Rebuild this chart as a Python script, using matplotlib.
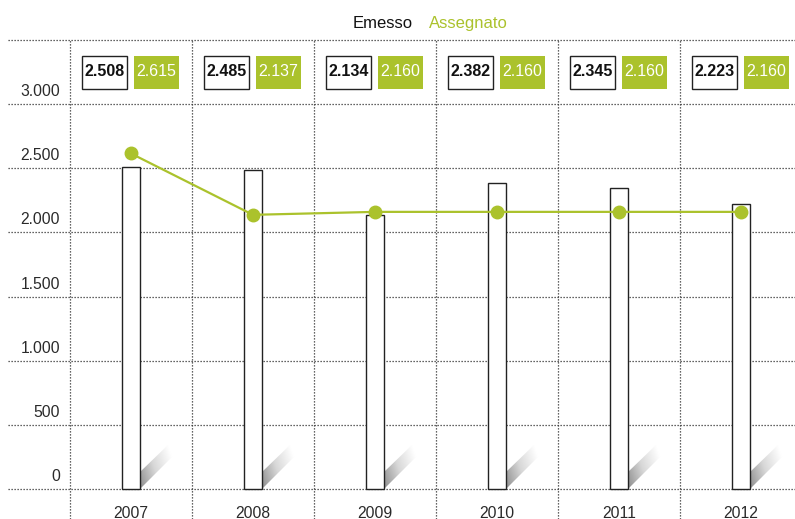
import numpy as np
import matplotlib
matplotlib.use('Agg')
import matplotlib.pyplot as plt
from matplotlib.patches import Polygon, Rectangle
from matplotlib.colors import LinearSegmentedColormap

years = ['2007', '2008', '2009', '2010', '2011', '2012']
emesso = [2508, 2485, 2134, 2382, 2345, 2223]
assegnato = [2615, 2137, 2160, 2160, 2160, 2160]
emesso_labels = ['2.508', '2.485', '2.134', '2.382', '2.345', '2.223']
assegnato_labels = ['2.615', '2.137', '2.160', '2.160', '2.160', '2.160']
yticks = [0, 500, 1000, 1500, 2000, 2500, 3000]
ytick_labels = ['0', '500', '1.000', '1.500', '2.000', '2.500', '3.000']
series_names = ['Emesso', 'Assegnato']

GREEN = '#abc22c'
TXT = '#2a2a2a'
W, H = 795, 519
fig = plt.figure(figsize=(W / 100, H / 100), dpi=100)
ax = fig.add_axes([0, 0, 1, 1])

cat_px = 122.0      # pixels per category
x0_px = 131.0       # pixel x of first category centre
y0_px = 489.0       # pixel y of value 0
vpp = 1000 / 128.3  # value units per pixel
ax.set_xlim(-x0_px / cat_px, (W - x0_px) / cat_px)
ax.set_ylim(-(H - y0_px) * vpp, y0_px * vpp)
ax.axis('off')
ymin, ymax = ax.get_ylim()
top_val = 3500
xl, xr = ax.get_xlim()
left_grid = (8 - x0_px) / cat_px

dot = dict(color='#333333', lw=0.9, linestyle=(0, (1, 1.4)), zorder=1)
for v in yticks + [top_val]:
    ax.plot([left_grid, xr], [v, v], **dot)
for i in range(len(years) + 1):
    ax.plot([i - 0.5, i - 0.5], [ymin, top_val], **dot)

# bars
bw = 18 / cat_px
x = np.arange(len(years))
ax.bar(x, emesso, width=bw, color='white', edgecolor='#222222', linewidth=1.0, zorder=3)

# shadows
cmap = LinearSegmentedColormap.from_list('sh', ['#8e8e8e', '#d8d8d8', '#ffffff'])
nx, ny = 40, 60
gx, gy = np.meshgrid(np.linspace(0, 34, nx), np.linspace(0, 50, ny))
t = np.clip((gx * 0.8 + (gy - gx) * 0.2) / 26, 0, 1)
for i in range(len(years)):
    bx = i + bw / 2
    pts_px = [(0, 0), (0, 17), (28, 44), (33, 33)]
    pts = [(bx + dx / cat_px, dy * vpp) for dx, dy in pts_px]
    poly = Polygon(pts, closed=True, facecolor='none', edgecolor='none')
    ax.add_patch(poly)
    im = ax.imshow(t, cmap=cmap, vmin=0, vmax=1, origin='lower', aspect='auto',
                   extent=[bx, bx + 34 / cat_px, 0, 50 * vpp], zorder=2.5,
                   interpolation='bilinear')
    im.set_clip_path(poly)

# line
ax.plot(x, assegnato, color=GREEN, lw=1.6, marker='o', ms=9, zorder=4)

# value boxes
box_w = 45 / cat_px
box_h = 33 * vpp
box_y = (y0_px - 72) * vpp
for i in range(len(years)):
    cx_w = i - 26.5 / cat_px
    cx_g = i + 25.5 / cat_px
    ax.add_patch(Rectangle((cx_w - box_w / 2, box_y - box_h / 2), box_w, box_h,
                           facecolor='white', edgecolor='#222222', lw=1.0, zorder=5))
    ax.add_patch(Rectangle((cx_g - box_w / 2, box_y - box_h / 2), box_w, box_h,
                           facecolor=GREEN, edgecolor='none', zorder=5))
    ax.text(cx_w, box_y, emesso_labels[i], ha='center', va='center', fontsize=11.5,
            family='Liberation Sans', weight='bold', color='#111111', zorder=6)
    ax.text(cx_g, box_y, assegnato_labels[i], ha='center', va='center', fontsize=11.5,
            family='Liberation Sans', color='white', zorder=6)

# y labels
for v, lab in zip(yticks, ytick_labels):
    ax.text((60 - x0_px) / cat_px, v + 5 * vpp, lab, ha='right', va='bottom',
            fontsize=11.3, family='Liberation Sans', color=TXT)

# x labels
for i, yr in enumerate(years):
    ax.text(i, (y0_px - 506) * vpp, yr, ha='center', va='top', fontsize=11.3,
            family='Liberation Sans', color=TXT)

# legend
fig.text(353 / W, 1 - 28.3 / H, series_names[0], ha='left', va='baseline', fontsize=12,
         family='Liberation Sans', color='#111111')
fig.text(429 / W, 1 - 28.3 / H, series_names[1], ha='left', va='baseline', fontsize=12,
         family='Liberation Sans', color=GREEN)

fig.savefig('out.png', dpi=100)
